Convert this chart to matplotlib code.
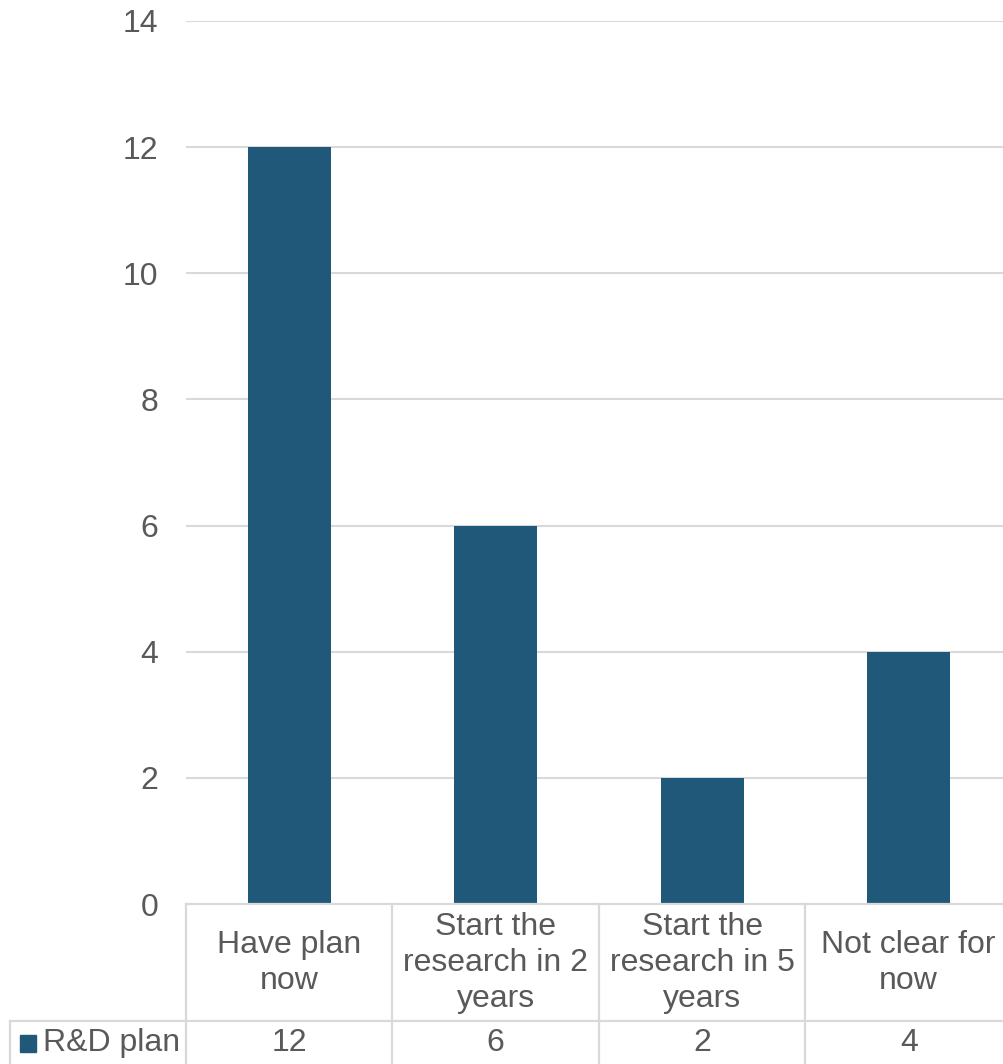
import matplotlib
matplotlib.use("Agg")
import matplotlib.pyplot as plt
from matplotlib.transforms import blended_transform_factory

plt.rcParams['font.family'] = ['Liberation Sans', 'DejaVu Sans']

categories = ["Have plan\nnow", "Start the\nresearch in 2\nyears",
              "Start the\nresearch in 5\nyears", "Not clear for\nnow"]
values = [12, 6, 2, 4]
series_name = "R&D plan"
yticks = [0, 2, 4, 6, 8, 10, 12, 14]

W, H = 1004, 1064
bar_color = "#1F5878"
text_color = "#595959"
line_color = "#D9D9D9"
fs = 23

fig = plt.figure(figsize=(W / 100, H / 100), dpi=100)

# plot area in pixel terms
left, right, top, bottom = 186, 1012, 21, 904
ax = fig.add_axes([left / W, 1 - bottom / H, (right - left) / W, (bottom - top) / H])

x = list(range(len(categories)))
ax.bar(x, values, width=0.40, color=bar_color, zorder=3)
ax.set_xlim(-0.5, len(categories) - 0.5)
ax.set_ylim(0, 14)
ax.set_yticks(yticks)
ax.set_yticklabels([str(t) for t in yticks], fontsize=fs, color=text_color)
ax.tick_params(axis='y', length=0, pad=20)
ax.set_xticks([])
for s in ax.spines.values():
    s.set_visible(False)
for t in yticks[1:]:
    ax.axhline(t, color=line_color, lw=1.5, zorder=1)

# data table below the plot
tr = blended_transform_factory(ax.transData, fig.transFigure)
def fy(py):
    return 1 - py / H

lw = 1.6
row1_top, row1_bot, row2_bot = 904, 1021, 1070
edges = [i - 0.5 for i in range(len(categories) + 1)]
# horizontal lines
fig.add_artist(plt.Line2D([left / W, 1.0], [fy(row1_top)] * 2, transform=fig.transFigure,
                          color=line_color, lw=lw))
fig.add_artist(plt.Line2D([10 / W, 1.0], [fy(row1_bot)] * 2, transform=fig.transFigure,
                          color=line_color, lw=lw))
# vertical lines
for e in edges:
    fig.add_artist(plt.Line2D([e, e], [fy(row1_top), fy(row2_bot)], transform=tr,
                              color=line_color, lw=lw))
fig.add_artist(plt.Line2D([10 / W] * 2, [fy(row1_bot), fy(row2_bot)], transform=fig.transFigure,
                          color=line_color, lw=lw))

# category labels and values
for xi, (c, v) in enumerate(zip(categories, values)):
    fig.text(xi, fy(963), c, transform=tr, ha='center', va='center', fontsize=fs,
             color=text_color, linespacing=1.25)
    fig.text(xi, fy(1043), str(v), transform=tr, ha='center', va='center', fontsize=fs,
             color=text_color)

# legend key cell
fig.add_artist(plt.Rectangle((20 / W, fy(1052)), 16 / W, 17 / H, transform=fig.transFigure,
                             color=bar_color))
fig.text(43 / W, fy(1043), series_name, ha='left', va='center', fontsize=fs, color=text_color)

fig.savefig("out.png", dpi=100)
